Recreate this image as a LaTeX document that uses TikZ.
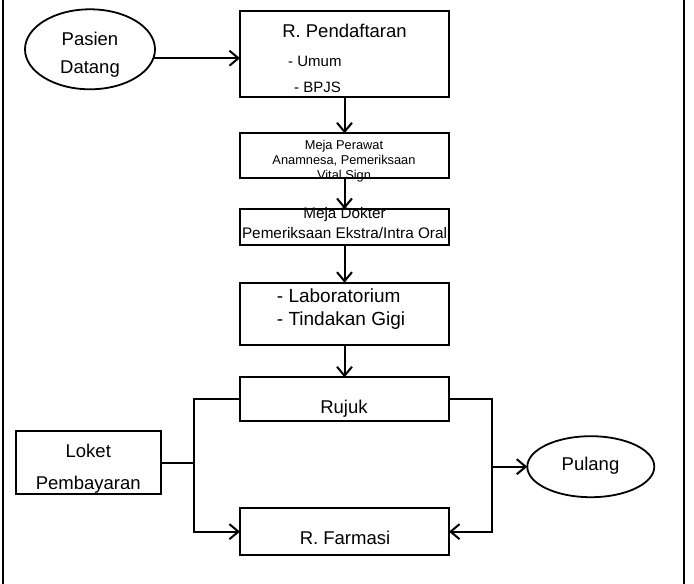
\documentclass[tikz,border=0pt]{standalone}
\usepackage{fontspec}
\setmainfont{Liberation Sans}
\usetikzlibrary{arrows.meta, positioning, shapes.geometric}

\begin{document}
\begin{tikzpicture}[
  x=1pt, y=-1pt,
  box/.style={
    rectangle,
    draw,
    line width=2pt,
    minimum width=209pt,
    inner sep=0pt,
    outer sep=0pt
  },
  oval/.style={ellipse, draw, line width=1.8pt, inner sep=0pt, outer sep=0pt},
  txt/.style={inner sep=0pt, align=center, font={\fontsize{18.5}{28}\selectfont}},
  subtxt/.style={inner sep=0pt, font={\fontsize{15}{18}\selectfont}},
  arrow/.style={-{Straight Barb[length=9pt, width=15pt]}, line width=2pt},
  link/.style={line width=2pt}
]
\useasboundingbox (0,0) rectangle (694,584);

% Frame
\draw[line width=1.2pt] (3,0) -- (3,584);
\draw[line width=1.2pt] (684,0) -- (684,584);

% Nodes (main column, top-down)
\node[box, minimum height=86pt] (daftar) at (344.5,54) {};
\node[box, minimum height=45pt, below=36.3pt of daftar] (perawat) {};
\node[box, minimum height=36pt, below=30.7pt of perawat] (dokter) {};
\node[box, minimum height=62.3pt, below=37.7pt of dokter] (lab) {};
\node[box, minimum height=44pt, below=32.3pt of lab] (rujuk) {};
\node[box, minimum height=46.7pt, below=87pt of rujuk] (farmasi) {};

% Side nodes
\node[oval, minimum width=130pt, minimum height=80pt] (pasien) at (90,49.3) {};
\node[box, minimum width=145pt, minimum height=63pt] (loket) at (88.5,462.7) {};
\node[oval, minimum width=127pt, minimum height=61pt] (pulang) at (590.8,466.7) {};

% Texts
\node[txt] (pasien-t) at (90,54.5) {Pasien\\Datang};
\node[txt, anchor=base] (daftar-t) at (344.5,37) {R. Pendaftaran};
\node[subtxt, anchor=base west] (umum) at (288,66) {- Umum};
\node[subtxt, anchor=base west] (bpjs) at (294,92) {- BPJS};
\node[txt, font={\fontsize{12.8}{15}\selectfont}] (perawat-t) at (344,160.8) {Meja Perawat\\Anamnesa, Pemeriksaan\\Vital Sign};
\node[txt, font={\fontsize{15.3}{20}\selectfont}] (dokter-t) at (344.5,223.1) {Meja Dokter\\Pemeriksaan Ekstra/Intra Oral};
\node[txt, align=left, font={\fontsize{19}{23}\selectfont}] (lab-t) at (341,308.7) {- Laboratorium\\- Tindakan Gigi};
\node[txt, anchor=base] (rujuk-t) at (344,413) {Rujuk};
\node[txt, anchor=base] (farmasi-t) at (345,544) {R. Farmasi};
\node[txt, font={\fontsize{18.5}{32}\selectfont}] (loket-t) at (88.3,468.8) {Loket\\Pembayaran};
\node[txt, anchor=base] (pulang-t) at (590.5,470.7) {Pulang};

% Branch points
\coordinate (lbus) at (194.3,462.7);
\coordinate (rbus) at (491.7,466.7);

% Arrows
\draw[arrow] (pasien.-8) -- (pasien.-8 -| daftar.west);
\draw[arrow] (daftar) -- (perawat);
\draw[arrow] (perawat) -- (dokter);
\draw[arrow] (dokter) -- (lab);
\draw[arrow] (lab) -- (rujuk);
\draw[link] (loket) -- (lbus);
\draw[arrow] (rujuk.west) -| (lbus) |- (farmasi.west);
\draw[arrow] (rujuk.east) -| (rbus) |- (farmasi.east);
\draw[arrow] (rbus) -- (pulang);

\end{tikzpicture}
\end{document}
